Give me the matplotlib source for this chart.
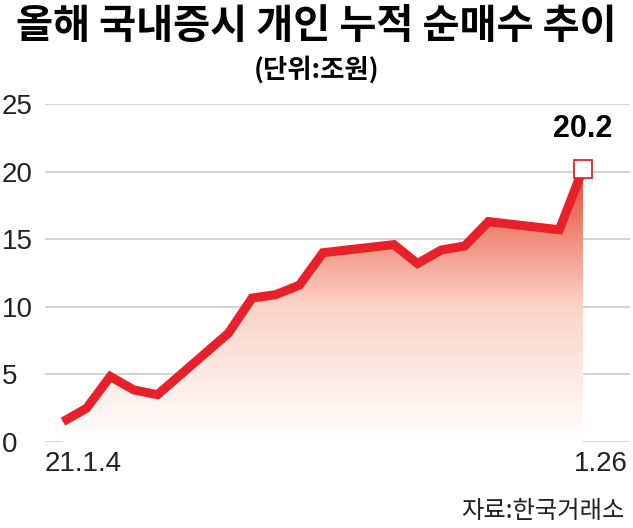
import pandas as pd
import numpy as np
import matplotlib
matplotlib.use("Agg")
import matplotlib.pyplot as plt
import matplotlib.dates as mdates
from matplotlib.colors import LinearSegmentedColormap
from matplotlib.patches import Polygon

# cumulative individual net buying, 2021 (unit: trillion won)
dates = ["2021-01-04", "2021-01-05", "2021-01-06", "2021-01-07", "2021-01-08",
         "2021-01-11", "2021-01-12", "2021-01-13", "2021-01-14", "2021-01-15",
         "2021-01-18", "2021-01-19", "2021-01-20", "2021-01-21", "2021-01-22",
         "2021-01-25", "2021-01-26"]
values = [1.5, 2.5, 4.85, 3.85, 3.5,
          8.05, 10.65, 10.9, 11.6, 14.0,
          14.6, 13.2, 14.2, 14.5, 16.3,
          15.7, 20.2]
yticks = [0, 5, 10, 15, 20, 25]
first_label = "21.1.4"
last_label = "1.26"
last_value_label = "20.2"

title = "올해 국내증시 개인 누적 순매수 추이"
unit = "(단위:조원)"
source = "자료:한국거래소"

red = "#e8202a"
kr = ["Noto Sans CJK KR", "DejaVu Sans"]
num = ["Liberation Sans Narrow", "Liberation Sans", "DejaVu Sans"]

df = pd.DataFrame({"date": pd.to_datetime(dates), "val": values})
x = mdates.date2num(df["date"])
y = df["val"].to_numpy()

fig = plt.figure(figsize=(6.33, 5.28), dpi=100)
ax = fig.add_axes([45 / 633, 86 / 528, 585 / 633, 338 / 528])

ax.set_ylim(0, 25)
ax.set_xlim(x[0] - 0.76, x[-1] + 1.99)

for t in yticks:
    ax.axhline(t, color="#cccccc", lw=1.2, zorder=0)

# gradient fill under the line
cmap = LinearSegmentedColormap.from_list("fade", ["#ffffff", "#fbd3c6", "#e5452f"])
grad = np.linspace(0, 1, 256).reshape(-1, 1)
im = ax.imshow(grad, cmap=cmap, aspect="auto", origin="lower",
               extent=[x[0], x[-1], 0, y.max()], zorder=1)
poly = Polygon(np.column_stack([np.r_[x[0], x, x[-1]], np.r_[0, y, 0]]),
               closed=True, facecolor="none", edgecolor="none")
ax.add_patch(poly)
im.set_clip_path(poly)

ax.plot(x, y, color=red, lw=6.5, solid_joinstyle="miter",
        solid_capstyle="butt", zorder=3)
ax.plot(x[-1], y[-1], marker="s", ms=13, mfc="white", mec=red, mew=1.3,
        zorder=4, clip_on=False)
ax.annotate(last_value_label, (x[-1], y[-1]), xytext=(0, 29),
            textcoords="offset points", ha="center", va="center",
            fontsize=22, fontweight="bold", family=num)

ax.set_xticks([])
ax.set_yticks(yticks)
ax.set_yticklabels([str(t) for t in yticks], family=num, fontsize=20,
                   color="#222222")
for lab in ax.get_yticklabels():
    lab.set_ha("left")
ax.tick_params(axis="y", length=0, pad=31)
for s in ax.spines.values():
    s.set_visible(False)

ax.text(0, -0.065, first_label, transform=ax.transAxes, ha="left", va="center",
        fontsize=20, family=num, color="#222222")
ax.text(0.997, -0.065, last_label, transform=ax.transAxes, ha="right",
        va="center", fontsize=20, family=num, color="#222222")

fig.text(0.5, 1 - 27 / 528, title, ha="center", va="center", fontsize=29,
         fontweight="black", family=kr)
fig.text(0.5, 1 - 70 / 528, unit, ha="center", va="center", fontsize=19,
         fontweight="bold", family=kr)
fig.text(625 / 633, 1 - 511 / 528, source, ha="right", va="center",
         fontsize=17.5, family=kr, color="#222222")

fig.savefig("out.png", dpi=100)
